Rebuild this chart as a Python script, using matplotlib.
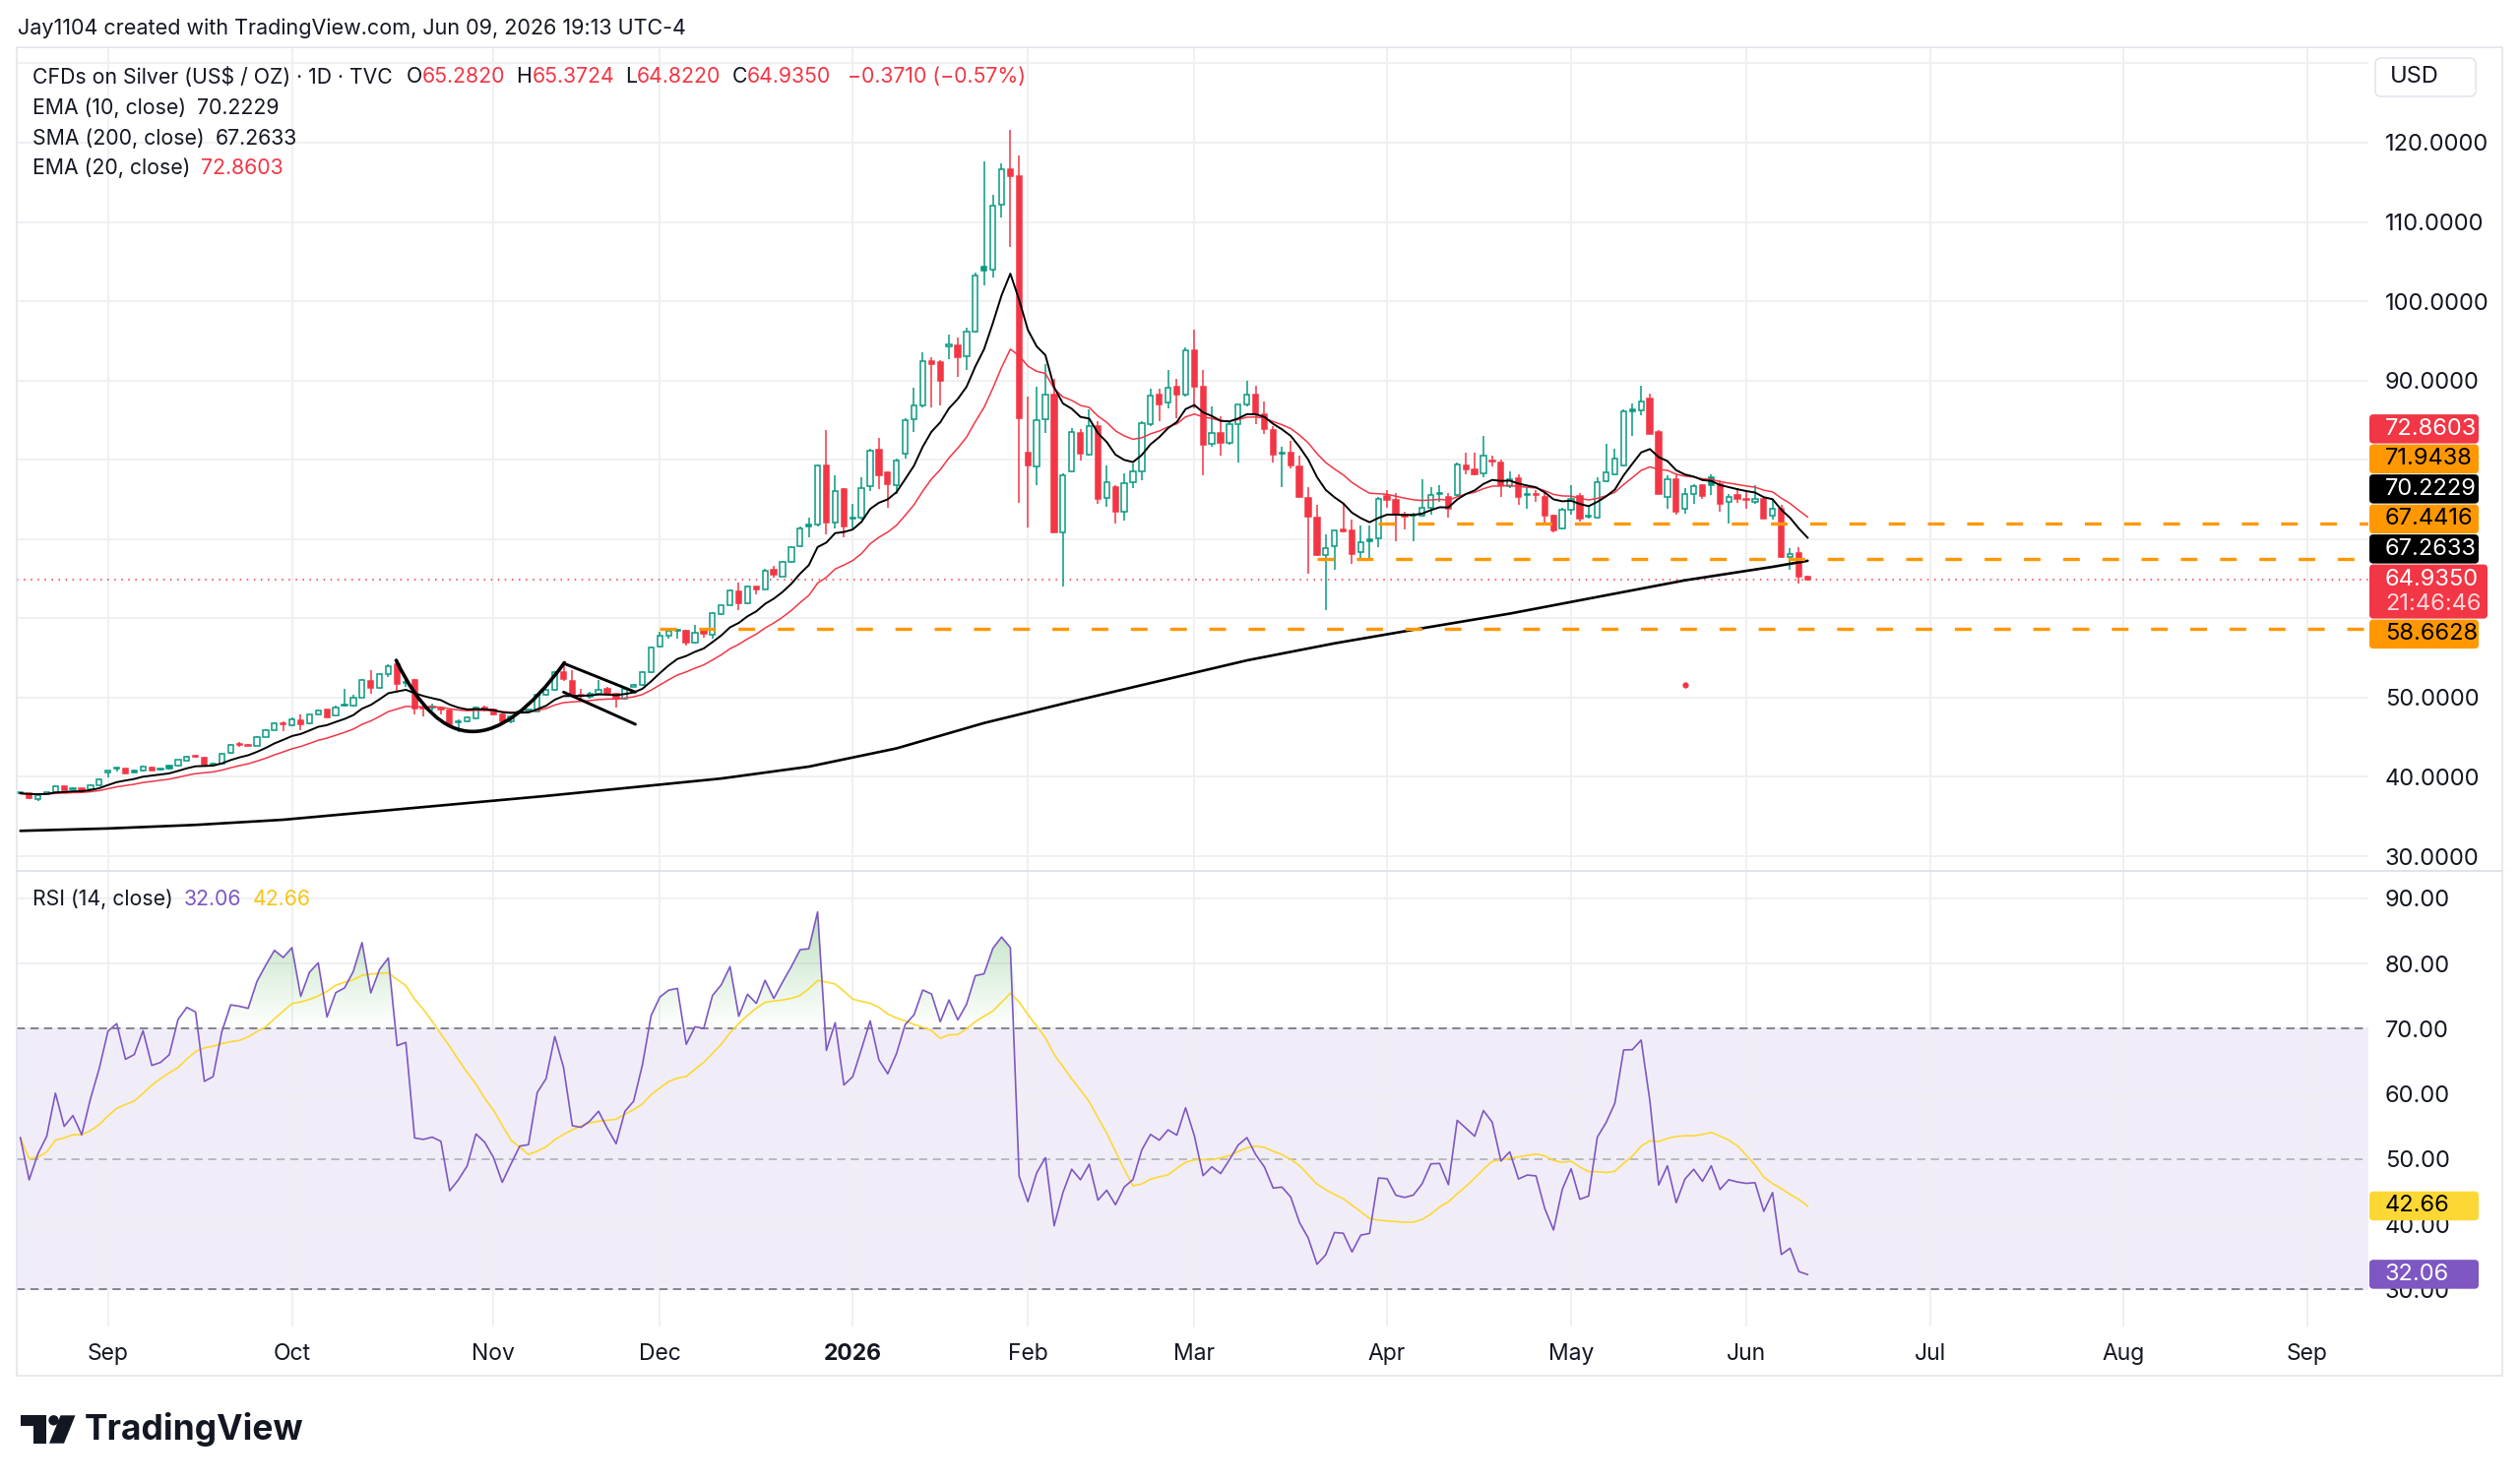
import numpy as np
import pandas as pd
import matplotlib
matplotlib.use("Agg")
import matplotlib.pyplot as plt
from matplotlib.patches import Rectangle, FancyBboxPatch, Polygon, Circle, PathPatch
from matplotlib.collections import LineCollection
from matplotlib.path import Path
from matplotlib.transforms import IdentityTransform
from matplotlib.colors import to_rgb

# daily bars, 2025-08-18 .. 2026-06-10
opens = [37.95, 37.90, 37.20, 37.85, 38.10, 38.85, 38.45, 38.56, 38.43, 38.89,
         40.55, 41.10, 41.03, 40.82, 40.75, 41.24, 41.00, 41.44, 41.44, 42.06,
         42.68, 42.47, 41.60, 41.73, 43.01, 44.10, 44.05, 43.92, 45.07, 45.90,
         46.82, 46.52, 47.09, 46.80, 47.92, 48.45, 47.75, 48.95, 48.95, 50.02,
         52.16, 51.22, 52.95, 54.23, 51.80, 52.25, 48.75, 48.85, 48.65, 48.40,
         46.90, 47.00, 47.42, 48.74, 48.45, 47.92, 47.01, 48.10, 48.45, 48.25,
         50.31, 50.93, 53.20, 52.16, 50.40, 50.10, 50.52, 51.13, 50.52, 49.90,
         51.40, 51.55, 53.20, 56.45, 57.81, 58.45, 58.45, 56.95, 58.47, 57.90,
         60.60, 61.70, 63.45, 61.90, 64.00, 63.70, 66.10, 65.30, 67.15, 69.10,
         71.80, 71.80, 79.25, 72.10, 76.25, 72.75, 72.73, 76.65, 81.30, 78.40,
         76.86, 80.80, 85.10, 86.90, 92.40, 92.30, 94.30, 94.40, 93.10, 96.15,
         104.30, 104.00, 112.15, 116.60, 115.75, 80.95, 79.10, 85.17, 88.20, 70.85,
         78.55, 83.35, 80.62, 84.20, 75.25, 76.50, 73.45, 77.15, 78.50, 84.50,
         88.20, 87.20, 89.20, 88.20, 93.75, 89.20, 81.98, 83.43, 82.20, 84.46,
         86.94, 88.18, 85.70, 83.76, 80.95, 80.87, 79.20, 75.25, 72.69, 67.93,
         69.05, 71.20, 71.12, 68.35, 70.00, 70.12, 75.45, 74.96, 73.10, 72.95,
         72.98, 73.97, 75.87, 75.33, 75.54, 79.34, 78.84, 78.35, 79.90, 79.67,
         76.69, 77.69, 75.55, 75.70, 75.33, 72.98, 71.40, 73.68, 75.45, 72.80,
         72.73, 77.27, 78.22, 79.26, 86.36, 86.20, 87.73, 83.47, 75.33, 77.60,
         73.88, 75.74, 76.78, 77.81, 76.98, 74.71, 75.54, 75.10, 74.75, 75.12,
         72.98, 73.88, 67.69, 68.18, 65.282]
highs = [38.05, 37.95, 37.80, 38.10, 38.95, 39.00, 38.70, 38.62, 39.05, 39.80,
         40.85, 41.20, 41.10, 40.90, 41.40, 41.30, 41.10, 41.50, 42.20, 42.65,
         42.85, 42.55, 41.75, 43.05, 44.10, 44.40, 44.15, 45.15, 46.00, 46.90,
         47.01, 47.45, 47.90, 47.90, 48.55, 48.50, 49.00, 51.10, 50.40, 52.30,
         53.50, 53.10, 54.20, 54.60, 52.20, 52.30, 49.00, 49.30, 48.80, 48.50,
         47.20, 47.60, 48.90, 49.05, 48.60, 48.00, 47.75, 48.35, 48.55, 50.40,
         51.10, 53.30, 54.35, 53.50, 51.10, 50.70, 52.20, 51.30, 50.60, 51.30,
         51.75, 53.30, 56.40, 58.30, 58.55, 58.70, 58.60, 59.20, 58.70, 60.75,
         61.70, 63.60, 64.55, 64.10, 64.05, 66.20, 66.60, 67.30, 69.10, 71.60,
         72.70, 79.40, 83.75, 78.00, 76.40, 74.50, 77.80, 81.35, 82.75, 78.60,
         80.10, 85.30, 89.05, 93.60, 92.90, 92.60, 95.80, 95.40, 96.65, 103.60,
         117.70, 113.40, 117.40, 121.65, 118.35, 88.00, 89.20, 92.10, 90.25, 78.30,
         84.05, 83.85, 86.30, 84.90, 79.30, 76.80, 78.25, 79.50, 84.90, 89.00,
         89.00, 91.30, 90.25, 94.20, 96.40, 91.30, 86.70, 85.50, 84.90, 87.00,
         89.95, 89.30, 87.35, 84.26, 81.60, 82.40, 80.50, 76.60, 74.35, 70.60,
         71.25, 74.55, 72.50, 71.70, 71.70, 75.35, 76.20, 75.80, 73.50, 73.30,
         77.60, 76.57, 76.80, 75.75, 79.60, 80.90, 80.90, 82.98, 80.50, 80.08,
         78.50, 78.20, 76.57, 76.15, 75.95, 73.06, 73.90, 76.86, 75.75, 74.30,
         77.80, 82.02, 81.40, 86.30, 87.10, 89.38, 88.35, 83.80, 78.00, 78.20,
         76.45, 76.98, 76.98, 78.20, 77.40, 75.74, 76.45, 76.16, 76.86, 75.33,
         75.00, 74.30, 68.84, 68.93, 65.3724]
lows = [37.85, 37.25, 36.91, 37.80, 38.00, 38.30, 38.40, 38.20, 38.35, 38.85,
        39.90, 40.70, 40.40, 40.50, 40.70, 40.75, 40.80, 40.95, 41.35, 42.00,
        42.45, 41.30, 41.50, 41.65, 42.95, 43.80, 43.90, 43.85, 45.00, 45.85,
        45.80, 46.40, 45.90, 46.70, 47.85, 47.45, 47.70, 48.90, 48.90, 49.95,
        50.50, 51.10, 52.60, 50.60, 51.30, 47.90, 47.65, 48.35, 47.90, 46.50,
        45.70, 46.90, 47.30, 48.30, 47.80, 46.50, 46.80, 47.95, 48.00, 48.20,
        50.20, 50.85, 52.10, 50.10, 49.50, 49.90, 50.40, 50.20, 48.70, 49.80,
        51.30, 51.45, 53.10, 56.30, 57.50, 57.40, 56.60, 56.80, 57.60, 57.50,
        60.40, 61.60, 61.00, 61.80, 63.00, 63.60, 65.10, 65.20, 67.00, 69.00,
        70.25, 71.60, 70.60, 71.30, 70.25, 71.30, 72.40, 76.00, 76.35, 74.00,
        75.70, 80.10, 83.50, 86.60, 86.60, 86.90, 92.70, 90.45, 91.30, 96.00,
        102.00, 103.05, 110.60, 106.90, 74.55, 71.45, 76.80, 83.40, 70.80, 64.00,
        78.50, 79.90, 80.50, 74.40, 74.10, 71.90, 72.30, 76.40, 77.45, 84.25,
        84.90, 86.50, 85.30, 88.00, 86.50, 78.05, 81.70, 80.55, 81.90, 79.70,
        86.70, 84.46, 83.20, 79.70, 76.60, 78.90, 75.20, 65.66, 67.90, 61.00,
        66.10, 70.90, 66.90, 67.50, 67.65, 69.00, 73.90, 69.70, 71.20, 69.75,
        72.85, 73.05, 74.70, 72.65, 75.40, 78.20, 78.00, 77.80, 79.20, 75.33,
        76.45, 74.30, 73.88, 74.70, 72.00, 70.80, 71.20, 73.06, 72.20, 72.60,
        72.60, 77.20, 78.00, 79.20, 82.97, 85.66, 83.20, 75.70, 73.88, 73.06,
        73.26, 74.40, 75.04, 75.50, 73.40, 71.90, 74.60, 73.80, 74.50, 72.60,
        72.40, 67.60, 66.10, 64.38, 64.822]
closes = [37.98, 37.32, 37.73, 38.02, 38.85, 38.35, 38.56, 38.27, 38.97, 39.67,
          40.75, 41.00, 40.49, 40.62, 41.32, 40.82, 40.90, 41.10, 42.14, 42.56,
          42.50, 41.53, 41.65, 42.97, 44.00, 43.98, 43.95, 45.07, 45.90, 46.80,
          46.70, 47.30, 46.60, 47.84, 48.41, 47.51, 48.74, 49.00, 49.98, 52.25,
          51.22, 52.99, 54.02, 51.75, 51.95, 48.66, 48.60, 48.70, 48.55, 46.60,
          47.00, 47.50, 48.74, 48.45, 47.92, 47.01, 47.63, 48.25, 48.30, 50.31,
          50.93, 53.20, 52.29, 50.31, 50.25, 50.52, 50.93, 50.39, 49.90, 51.13,
          51.55, 53.20, 56.29, 57.80, 58.40, 58.55, 56.95, 58.15, 58.10, 60.62,
          61.60, 63.50, 61.95, 64.00, 63.70, 66.05, 65.45, 67.15, 69.00, 71.40,
          71.55, 79.25, 72.10, 76.10, 71.55, 72.60, 76.45, 81.20, 78.10, 76.95,
          79.95, 85.00, 86.90, 92.40, 92.10, 90.00, 94.50, 92.95, 96.15, 103.25,
          103.80, 112.00, 116.60, 115.75, 85.30, 79.30, 85.00, 88.20, 70.85, 78.00,
          83.45, 80.75, 84.26, 75.10, 77.20, 73.45, 77.00, 78.50, 84.60, 88.05,
          86.95, 89.10, 88.20, 93.75, 89.20, 81.85, 83.43, 82.20, 84.45, 86.94,
          88.18, 85.70, 83.85, 80.62, 80.75, 79.30, 75.37, 72.77, 67.93, 68.88,
          71.12, 71.00, 68.06, 69.60, 69.75, 75.08, 75.00, 73.10, 72.85, 73.05,
          73.97, 75.62, 75.65, 73.88, 79.46, 78.84, 78.22, 80.58, 79.75, 76.78,
          77.52, 75.33, 75.62, 75.55, 72.98, 71.07, 73.68, 75.12, 72.64, 72.85,
          77.19, 78.43, 80.17, 86.07, 86.12, 87.31, 83.31, 75.74, 77.60, 73.47,
          75.74, 76.69, 75.45, 76.86, 74.50, 75.33, 75.12, 75.00, 75.05, 72.64,
          73.88, 67.69, 68.10, 65.306, 64.935]

first_day = "2025-08-18"
axis_end_day = "2026-09-30"
market_holidays = ["2025-09-01", "2025-11-27", "2025-12-25", "2026-01-01", "2026-01-19",
                   "2026-02-16", "2026-04-03", "2026-05-25", "2026-06-19", "2026-07-03",
                   "2026-09-07"]

# SMA(200) read every 10th bar, plus the last bar
sma200_every10 = [33.2, 33.5, 33.95, 34.6, 35.6, 36.6, 37.6, 38.7, 39.8, 41.3, 43.6,
                  46.8, 49.5, 52.1, 54.7, 56.85, 58.75, 60.6, 62.7, 64.8, 66.5]
sma200_last = 67.2633

ema10_seed = 37.95
ema20_seed = 37.85
rsi_seed_gain = 0.196
rsi_seed_loss = 0.172

# horizontal rays drawn on the chart
ray_levels = [71.9438, 67.4416, 58.6628]
ray_start = ["2026-03-31", "2026-03-20", "2025-12-01"]

# drawn pattern: arc (start, control, end) and a flag, in (bar, price)
arc_pts = [(42.9, 54.7), (50.6, 36.9), (62.1, 54.4)]
flag_top = [(62.0, 54.33), (70.2, 50.7)]
flag_bottom = [(62.0, 50.7), (70.2, 46.64)]
dot_day, dot_price = "2026-05-20", 51.6

header_vals = {"O": "65.2820", "H": "65.3724", "L": "64.8220", "C": "64.9350"}
change_txt = "\u22120.3710 (\u22120.57%)"
ema10_txt, sma200_txt, ema20_txt = "70.2229", "67.2633", "72.8603"
rsi_txt, rsima_txt = "32.06", "42.66"
countdown = "21:46:46"

# ---------------------------------------------------------------
W, H = 2560, 1507
GREEN, RED = "#089981", "#F23645"
ORANGE, DARK = "#FF9800", "#131722"
PURPLE, YELLOW = "#7E57C2", "#FDD835"
GRID = "#f0f0f3"
FS_AX = 17
FS_LEG = 15.3

plt.rcParams["font.family"] = ["Inter", "DejaVu Sans"]
plt.rcParams["lines.scale_dashes"] = False

o = np.array(opens); h = np.array(highs); l = np.array(lows); c = np.array(closes)
n = len(c)
xs = np.arange(n)
days = pd.bdate_range(first_day, axis_end_day, freq="C", holidays=market_holidays)
bar_of = {d.strftime("%Y-%m-%d"): i for i, d in enumerate(days)}

def ema(vals, span, seed):
    k = 2.0 / (span + 1)
    e, out = seed, []
    for v in vals:
        e = e + k * (v - e)
        out.append(e)
    return np.array(out)

ema10 = ema(c, 10, ema10_seed)
ema20 = ema(c, 20, ema20_seed)

ag, al = rsi_seed_gain, rsi_seed_loss
rsi = [100 - 100 / (1 + ag / al)]
for d in np.diff(c):
    ag = (ag * 13 + max(d, 0)) / 14
    al = (al * 13 + max(-d, 0)) / 14
    rsi.append(100 - 100 / (1 + ag / al))
rsi = np.array(rsi)
rsi_ma = pd.Series(rsi).rolling(14, min_periods=1).mean().values

# month ticks
months = pd.period_range("2025-09", "2026-09", freq="M")
month_idx, month_lbl = [], []
for m in months:
    hit = np.where((days.year == m.year) & (days.month == m.month))[0]
    month_idx.append(hit[0])
    month_lbl.append("2026" if m.month == 1 else m.strftime("%b"))

fig = plt.figure(figsize=(W / 100, H / 100), dpi=100)
fig.patch.set_facecolor("white")

def px(x, y):
    return (x, H - y)

L_px, R_px = 17.3, 2406
x_lo = (L_px - 20.7) / 8.9
x_hi = (R_px - 20.7) / 8.9
ax = fig.add_axes([L_px / W, 1 - 884 / H, (R_px - L_px) / W, (884 - 48.3) / H])
ax2 = fig.add_axes([L_px / W, 1 - 1348 / H, (R_px - L_px) / W, (1348 - 885) / H])

for a in (ax, ax2):
    for s in a.spines.values():
        s.set_visible(False)
    a.set_xticks(month_idx)
    a.tick_params(axis="x", length=0, labelbottom=False)
    a.yaxis.tick_right()
    a.tick_params(axis="y", length=0, pad=12, labelsize=FS_AX, labelcolor=DARK)
    a.grid(True, color=GRID, lw=1.4, zorder=0)
    a.set_axisbelow(True)

# ---- candles ----
prev_c = np.r_[o[0], c[:-1]]
col = np.where(c >= prev_c, GREEN, RED)
bw = 0.6
segs, seg_cols = [], []
for i in xs:
    top, bot = max(o[i], c[i]), min(o[i], c[i])
    segs.append([(i, top), (i, h[i])])
    segs.append([(i, l[i]), (i, bot)])
    seg_cols += [col[i], col[i]]
    hollow = c[i] > o[i]
    ht = max(top - bot, 0.12)
    ax.add_patch(Rectangle((i - bw / 2, bot), bw, ht, facecolor="white" if hollow else col[i],
                           edgecolor=col[i], lw=1.1, zorder=3))
ax.add_collection(LineCollection(segs, colors=seg_cols, linewidths=1.1, zorder=2.9))

# moving averages
sma_x = list(range(0, 10 * len(sma200_every10), 10)) + [n - 1]
ax.plot(sma_x, sma200_every10 + [sma200_last], color="black", lw=1.9, zorder=4,
        solid_capstyle="round")
ax.plot(xs, ema20, color=RED, lw=1.1, zorder=4)
ax.plot(xs, ema10, color="black", lw=1.4, zorder=4)

# rays and last-price line
for lev, d0 in zip(ray_levels, ray_start):
    ax.plot([bar_of[d0], x_hi + 5], [lev, lev], color=ORANGE, lw=2.4,
            dashes=(12.2, 16.5), zorder=5, dash_capstyle="butt")
ax.axhline(c[-1], color=RED, lw=1.1, dashes=(1.1, 4), zorder=2)

# drawn pattern
arc = Path(arc_pts, [Path.MOVETO, Path.CURVE3, Path.CURVE3])
ax.add_patch(PathPatch(arc, facecolor="none", edgecolor="black", lw=2.6, zorder=6,
                       capstyle="round"))
for seg in (flag_top, flag_bottom):
    ax.plot(*zip(*seg), color="black", lw=2.1, zorder=6, solid_capstyle="round")
ax.plot([bar_of[dot_day]], [dot_price], "o", color=RED, ms=3.5, zorder=6)

ax.set_xlim(x_lo, x_hi)
ax.set_ylim(28.27, 132.0)
yt = np.arange(30, 131, 10)
ax.set_yticks(yt)

# ---- RSI pane ----
ax2.axhspan(30, 70, color=PURPLE, alpha=0.1, lw=0, zorder=0.5)
poly = ax2.fill_between(xs, 70, np.maximum(rsi, 70), facecolor="none", edgecolor="none")
lev = np.linspace(70, 100, 256)
grad = np.zeros((256, 1, 4))
grad[..., :3] = to_rgb("#4CAF50")
grad[:, 0, 3] = np.clip((lev - 70) / 20 * 0.42, 0, 0.55)
im = ax2.imshow(grad, extent=[x_lo, x_hi, 70, 100], origin="lower", aspect="auto",
                zorder=1, interpolation="bilinear")
im.set_clip_path(poly.get_paths()[0], transform=ax2.transData)
ax2.axhline(70, color="#787B86", lw=1.3, dashes=(6, 4), zorder=1.5)
ax2.axhline(30, color="#787B86", lw=1.3, dashes=(6, 4), zorder=1.5)
ax2.axhline(50, color="#787B86", lw=1.3, dashes=(6, 4), alpha=0.5, zorder=1.5)
ax2.plot(xs, rsi_ma, color=YELLOW, lw=1.2, zorder=3)
ax2.plot(xs, rsi, color=PURPLE, lw=1.2, zorder=4)
ax2.set_xlim(x_lo, x_hi)
ax2.set_ylim(24.3, 94.2)
ax2.set_yticks(np.arange(30, 91, 10))
ax2.set_yticklabels([f"{v:.2f}" for v in np.arange(30, 91, 10)])

# time axis labels
for xi, lb in zip(month_idx, month_lbl):
    xd = ax2.transData.transform((xi, 50))[0]
    fig.text(xd / W, 1 - 1376 / H, lb, ha="center", va="center", fontsize=16.5, color=DARK,
             fontweight="bold" if lb == "2026" else "normal")

# ---- frame ----
fig.add_artist(Rectangle(px(L_px, 1398), 2541.7 - L_px, 1398 - 48.3, transform=IdentityTransform(),
                         fill=False, ec="#e0e3eb", lw=1.1))
fig.add_artist(plt.Line2D([L_px, 2541.7], [H - 884.5, H - 884.5], transform=IdentityTransform(),
                          color="#e0e3eb", lw=1.4))

# ---- price-scale labels ----
def ypx(a, v):
    return H - a.transData.transform((0, v))[1]

main_spans = []

def tag(y_top, hgt, lines, fc, tc, spans=None, wid=111):
    fig.add_artist(FancyBboxPatch((2407, H - y_top - hgt), wid, hgt,
                                  boxstyle="round,pad=0,rounding_size=4", fc=fc, ec="none",
                                  transform=IdentityTransform(), zorder=10))
    if spans is not None:
        spans.append((y_top, y_top + hgt))
    if len(lines) == 1:
        fig.text(2423 / W, 1 - (y_top + hgt / 2) / H, lines[0], color=tc, fontsize=FS_AX,
                 va="center", ha="left", zorder=11)
    else:
        fig.text(2423 / W, 1 - (y_top + 15) / H, lines[0], color=tc, fontsize=FS_AX,
                 va="center", ha="left", zorder=11)
        fig.text(2423 / W, 1 - (y_top + 40) / H, lines[1], color=tc, fontsize=FS_AX,
                 va="center", ha="left", zorder=11, alpha=0.8)

tags_above = [(sma200_txt, "black", "white"), ("67.4416", ORANGE, "black"),
              (ema10_txt, "black", "white"), ("71.9438", ORANGE, "black"),
              (ema20_txt, RED, "white")]
last_top = ypx(ax, c[-1]) - 15
tag(last_top, 55, [header_vals["C"], countdown], RED, "white", main_spans, wid=120)
for k, (txt, fc, tc) in enumerate(tags_above, start=1):
    tag(last_top - k * 30.5, 29.5, [txt], fc, tc, main_spans)
tag(max(ypx(ax, ray_levels[2]) - 15, last_top + 56), 29.5, ["58.6628"], ORANGE, "black",
    main_spans)
tag(ypx(ax2, rsi_ma[-1]) - 15, 29.5, [rsima_txt], YELLOW, "black")
tag(ypx(ax2, rsi[-1]) - 15, 29.5, [rsi_txt], PURPLE, "white")

# price ticks hidden where a tag sits on top of them
lbls = []
for v in yt:
    yv = ypx(ax, v)
    covered = any(a0 - 8 <= yv <= b0 + 8 for a0, b0 in main_spans)
    lbls.append("" if (v > 120 or covered) else f"{v:.4f}")
ax.set_yticklabels(lbls)

# USD box
fig.add_artist(FancyBboxPatch((2413, H - 98), 102, 39, boxstyle="round,pad=0,rounding_size=6",
                              fc="white", ec="#e0e3eb", lw=1.1, transform=IdentityTransform()))
fig.text(2428 / W, 1 - 78 / H, "USD", fontsize=FS_AX, color=DARK, va="center", ha="left")

# ---- legends ----
def run(host, x, y, parts, size=FS_LEG):
    t = fig.text(x / W, 1 - y / H, parts[0][0], color=parts[0][1], fontsize=size,
                 va="center", ha="left")
    for s, cc, gap in parts[1:]:
        t = host.annotate(s, xy=(1, 0.5), xycoords=t, xytext=(gap, 0), textcoords="offset points",
                          va="center", ha="left", color=cc, fontsize=size, annotation_clip=False)

fig.text(17.5 / W, 1 - 29 / H, "Jay1104 created with TradingView.com, Jun 09, 2026 19:13 UTC-4",
         fontsize=15.5, color=DARK, va="center", ha="left")
run(ax, 33, 78, [("CFDs on Silver (US$ / OZ) \u00b7 1D \u00b7 TVC", DARK, 0),
                 ("O", DARK, 10), (header_vals["O"], RED, 0),
                 ("H", DARK, 8), (header_vals["H"], RED, 0),
                 ("L", DARK, 8), (header_vals["L"], RED, 0),
                 ("C", DARK, 8), (header_vals["C"], RED, 0),
                 (change_txt, RED, 12)])
run(ax, 33, 110, [("EMA (10, close)", DARK, 0), (ema10_txt, DARK, 8)])
run(ax, 33, 141, [("SMA (200, close)", DARK, 0), (sma200_txt, DARK, 8)])
run(ax, 33, 171, [("EMA (20, close)", DARK, 0), (ema20_txt, RED, 8)])
run(ax2, 33, 914, [("RSI (14, close)", DARK, 0), (rsi_txt, PURPLE, 8), (rsima_txt, "#F5C518", 8)])

# ---- TradingView mark ----
def P(pts):
    return [px(a, b) for a, b in pts]
logo = "#131722"
fig.add_artist(Polygon(P([(20.7, 1438.3), (46.7, 1438.3), (46.7, 1466.7), (33.5, 1466.7),
                          (33.5, 1448.5), (20.7, 1448.5)]), closed=True, fc=logo, ec="none",
                       transform=IdentityTransform()))
fig.add_artist(Circle(px(54.5, 1443.3), 5.2, fc=logo, ec="none", transform=IdentityTransform()))
fig.add_artist(Polygon(P([(50, 1466.7), (65, 1466.7), (76.5, 1438.3), (61.5, 1438.3)]),
                       closed=True, fc=logo, ec="none", transform=IdentityTransform()))
fig.text(86 / W, 1 - 1452 / H, "TradingView", fontsize=25.5, fontweight="bold", color=logo,
         va="center", ha="left")

fig.savefig("out.png", dpi=100, facecolor="white")
